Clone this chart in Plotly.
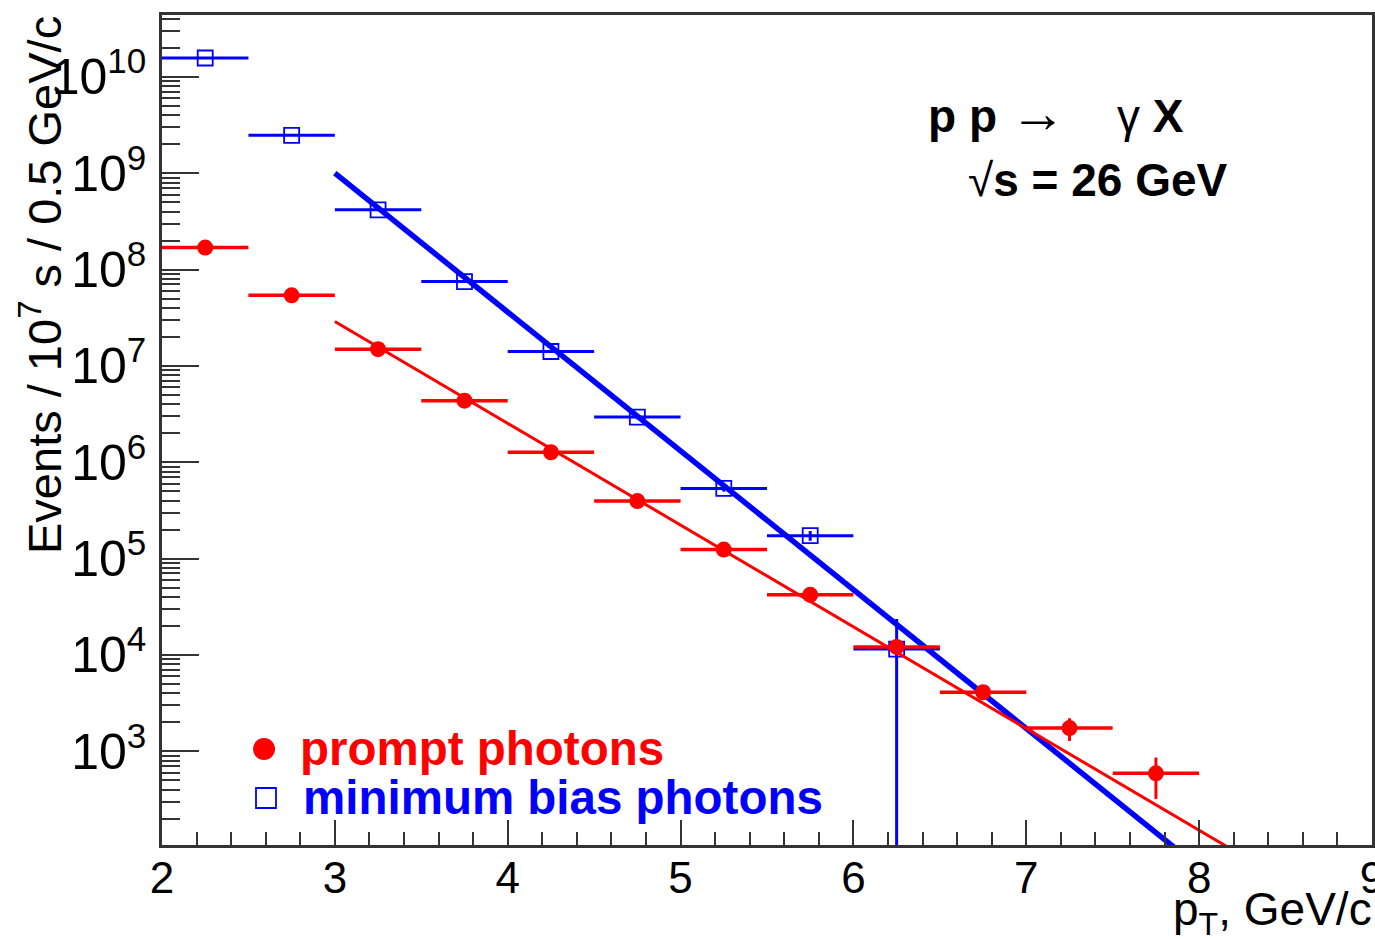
import numpy as np
import plotly.graph_objects as go

# ---------------- data ----------------
pt_prompt = [2.25, 2.75, 3.25, 3.75, 4.25, 4.75, 5.25, 5.75, 6.25, 6.75, 7.25, 7.75]
prompt = [1.69e8, 5.4e7, 1.49e7, 4.35e6, 1.27e6, 3.95e5, 1.24e5, 4.2e4, 1.21e4, 4.1e3, 1.74e3, 590]
prompt_err = [2.0e6, 8.0e5, 3.0e5, 1.0e5, 3.0e4, 1.2e4, 4.0e3, 1.8e3, 900, 400, 460, 270]

pt_minbias = [2.25, 2.75, 3.25, 3.75, 4.25, 4.75, 5.25, 5.75, 6.25]
minbias = [1.57e10, 2.47e9, 4.17e8, 7.5e7, 1.41e7, 2.94e6, 5.35e5, 1.73e5, 1.15e4]
minbias_err = [1.0e8, 3.0e7, 8.0e6, 2.0e6, 5.0e5, 1.5e5, 4.0e4, 2.0e4, 1.21e4]

bin_half_width = 0.25

# exponential fits: log10(N) = c3 + slope * (pT - 3), drawn over fit range
fit_prompt = dict(c3=7.46, slope=-1.056, xmin=3.0, xmax=8.5)
fit_minbias = dict(c3=9.0, slope=-1.441, xmin=3.0, xmax=8.5)

xtick_vals = [2, 3, 4, 5, 6, 7, 8, 9]

RED = "#ff0000"
BLUE = "#0000ff"
FONT = "Liberation Sans, Arial, Helvetica, sans-serif"

# ---------------- layout geometry (pixels) ----------------
W, H = 1375, 939
L, R, T, B = 162, 3, 15, 94
PW, PH = W - L - R, H - T - B


def px(x):
    return (x - L) / PW


def py(y):
    return (H - B - y) / PH


def fit_curve(p):
    xs = np.linspace(p["xmin"], p["xmax"], 60)
    ys = 10 ** (p["c3"] + p["slope"] * (xs - 3.0))
    return xs, ys


fig = go.Figure()

# minimum bias photons
fig.add_trace(go.Scatter(
    x=pt_minbias, y=minbias, mode="markers",
    marker=dict(symbol="square-open", size=15, color=BLUE, line=dict(width=1.8, color=BLUE)),
    error_x=dict(type="constant", value=bin_half_width, width=0, thickness=3, color=BLUE),
    error_y=dict(type="data", array=minbias_err, width=0, thickness=3, color=BLUE),
    showlegend=False, name="minimum bias photons",
))
xs, ys = fit_curve(fit_minbias)
fig.add_trace(go.Scatter(x=xs, y=ys, mode="lines", line=dict(color=BLUE, width=5.5),
                         showlegend=False, hoverinfo="skip"))

# prompt photons
fig.add_trace(go.Scatter(
    x=pt_prompt, y=prompt, mode="markers",
    marker=dict(symbol="circle", size=16, color=RED),
    error_x=dict(type="constant", value=bin_half_width, width=0, thickness=3.5, color=RED),
    error_y=dict(type="data", array=prompt_err, width=0, thickness=3, color=RED),
    showlegend=False, name="prompt photons",
))
xs, ys = fit_curve(fit_prompt)
fig.add_trace(go.Scatter(x=xs, y=ys, mode="lines", line=dict(color=RED, width=3),
                         showlegend=False, hoverinfo="skip"))

axis_common = dict(
    showline=True, linecolor="#333333", linewidth=2.5, mirror=True,
    ticks="inside", tickcolor="#333333", tickwidth=2,
    showgrid=False, zeroline=False,
    ticklabeloverflow="allow", automargin=False,
)

fig.update_xaxes(
    range=[2, 9], tickvals=xtick_vals, ticklen=25,
    minor=dict(ticks="inside", dtick=0.2, ticklen=13, tickcolor="#333333", tickwidth=2, showgrid=False),
    ticklabelstandoff=-8,
    tickfont=dict(family=FONT, size=44, color="black"),
    **axis_common,
)
fig.update_yaxes(
    type="log", range=[2.027, 10.642], dtick=1, ticklen=37,
    exponentformat="power", showexponent="all",
    minor=dict(ticks="inside", dtick="D1", ticklen=18, tickcolor="#333333", tickwidth=2, showgrid=False),
    ticklabelstandoff=5,
    tickfont=dict(family=FONT, size=40, color="black"),
    **axis_common,
)

annotations = [
    # y-axis title (right-aligned to top of axis, ROOT style)
    dict(text="Events / 10<sup>7</sup> s / 0.5 GeV/c", textangle=-90,
         x=px(41), y=py(14), xanchor="center", yanchor="top",
         font=dict(family=FONT, size=47, color="black")),
    # x-axis title (right-aligned)
    dict(text="p<sub>T</sub>, GeV/c",
         x=px(1374), y=py(912), xanchor="right", yanchor="middle",
         font=dict(family=FONT, size=46, color="black")),
    # process label
    dict(text="<b>p p</b> <span style=\"font-size:56px\">\u2192</span>\u00a0\u00a0\u00a0\u00a0\u03b3 <b>X</b>",
         x=px(926), y=py(113), xanchor="left", yanchor="middle",
         font=dict(family=FONT, size=46, color="black")),
    dict(text="\u221a<b>s = 26 GeV</b>",
         x=px(966), y=py(180), xanchor="left", yanchor="middle",
         font=dict(family=FONT, size=46, color="black")),
    # legend texts
    dict(text="<b>prompt photons</b>",
         x=px(298), y=py(748), xanchor="left", yanchor="middle",
         font=dict(family=FONT, size=47.5, color=RED)),
    dict(text="<b>minimum bias photons</b>",
         x=px(301), y=py(797), xanchor="left", yanchor="middle",
         font=dict(family=FONT, size=47.5, color=BLUE)),
]
for a in annotations:
    a.update(xref="paper", yref="paper", showarrow=False)

shapes = [
    dict(type="circle", xref="paper", yref="paper", xsizemode="pixel", ysizemode="pixel",
         xanchor=px(264), yanchor=py(749), x0=-11, x1=11, y0=-11, y1=11,
         fillcolor=RED, line=dict(color=RED, width=0)),
    dict(type="rect", xref="paper", yref="paper", xsizemode="pixel", ysizemode="pixel",
         xanchor=px(266), yanchor=py(798), x0=-10, x1=10, y0=-10, y1=10,
         fillcolor="rgba(0,0,0,0)", line=dict(color=BLUE, width=1.8)),
]

fig.update_layout(
    width=W, height=H, autosize=False,
    margin=dict(l=L, r=R, t=T, b=B, pad=0),
    paper_bgcolor="white", plot_bgcolor="white",
    font=dict(family=FONT, color="black"),
    annotations=annotations, shapes=shapes,
    showlegend=False,
)

fig.write_html("out.html")
